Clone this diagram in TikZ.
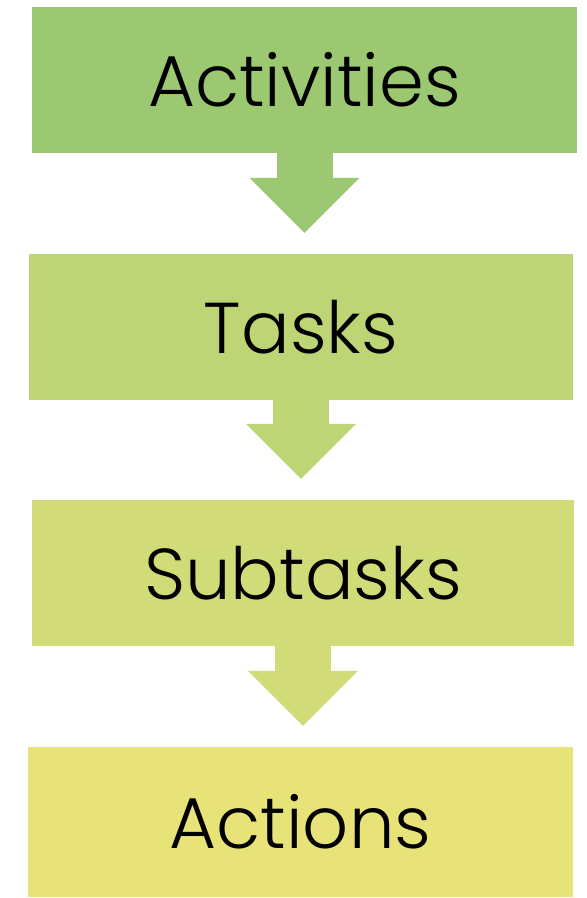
\documentclass[tikz,border=0pt]{standalone}
\usepackage{fontspec}
\setmainfont{Poppins Light}
\usetikzlibrary{arrows.meta}
\definecolor{actgreen}{HTML}{9BC870}
\definecolor{taskgreen}{HTML}{BDD574}
\definecolor{subgreen}{HTML}{D1DC78}
\definecolor{actyellow}{HTML}{E8E378}
\tikzset{
  stagebox/.style={inner sep=0pt, minimum width=545pt, minimum height=146pt,
    font=\fontsize{72}{80}\selectfont},
  flowarrow/.style={draw=#1, line width=56pt, shorten >=21pt,
    -{Triangle[width=110pt, length=55pt, line width=0pt]}}
}
\begin{document}
\begin{tikzpicture}[x=1pt, y=-1pt]
    \useasboundingbox (0,0) rectangle (587,898);
    % First, the four stages
    \node[stagebox, fill=actgreen] (activities) at (304.5,80) {Activities};
    \node[stagebox, fill=taskgreen, minimum width=544pt] (tasks) at (301,327) {Tasks};
    \node[stagebox, fill=subgreen, minimum width=542pt] (subtasks) at (303,573) {Subtasks};
    \node[stagebox, fill=actyellow, minimum height=150pt] (actions) at (300.5,822) {Actions};
    % Now the arrows between them
    \draw[flowarrow=actgreen] (activities.south) -- (activities.south |- tasks.north);
    \draw[flowarrow=taskgreen] (tasks.south) -- (tasks.south |- subtasks.north);
    \draw[flowarrow=subgreen] (subtasks.south) -- (subtasks.south |- actions.north);
\end{tikzpicture}
\end{document}
